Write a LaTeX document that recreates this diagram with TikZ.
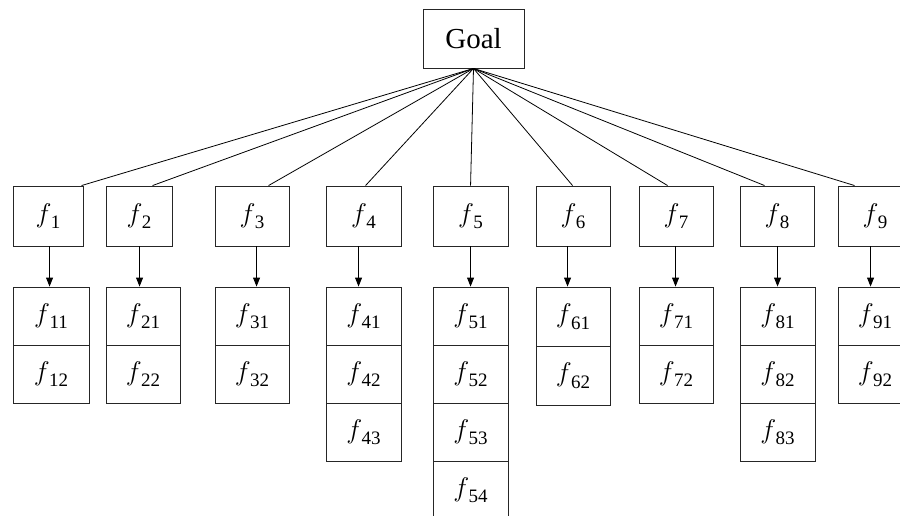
\documentclass[tikz,border=0pt]{standalone}
\usepackage{fix-cm}
\usepackage{fontspec}
\setmainfont{Liberation Serif}
\usetikzlibrary{arrows.meta,calc}
% italic f with an upright lowered index
\newcommand\fsym[1]{$f$\kern-0.02em\raisebox{-0.24em}{\fontsize{19}{20}\selectfont #1}}

\begin{document}
\begin{tikzpicture}[x=1pt,y=-1pt,
  box/.style={draw=black!85, line width=0.9pt, inner sep=0pt,
              font=\fontsize{27}{30}\selectfont},
  link/.style={line width=0.8pt},
  down/.style={line width=0.9pt,-{Triangle[length=9pt,width=7pt]}}]
\useasboundingbox (0,0) rectangle (900,516);
\clip (0,0) rectangle (900,516);
\fill[white] (0,0) rectangle (900,516);

% root
\node[box, minimum width=101, minimum height=59,
      font=\fontsize{29}{31}\selectfont] (goal) at (473.5,38.5) {Goal};

% factors: index / left / right / right of sub-boxes / number of sub-boxes /
%          sub-box height / end of link on top edge / arrow x
\foreach \n/\l/\r/\cr/\k/\ch/\lx/\ax in {
   1/13/83/89/2/58/82/50,
   2/106/172/180/2/58/153/140,
   3/215/289/289/2/58/269/257,
   4/326/401/401/3/58/366/359,
   5/433/508/508/4/58/471/471,
   6/536/610/610/2/59/573/568,
   7/639/713/713/2/58/668/676,
   8/740/814/815/3/58/765/778,
   9/838/912/912/2/58/855/871}
{
  \node[box, minimum width={\r-\l}, minimum height=60]
       (f\n) at ({(\l+\r)/2},216) {\fsym{\n}};
  \draw[link] (goal.south) -- ($(f\n.north west)+(\lx-\l,0)$);
  \foreach \j in {1,...,\k} {
    \node[box, minimum width={\cr-\l}, minimum height=\ch]
         (f\n\j) at ({(\l+\cr)/2},{287+\ch*(\j-1)+\ch/2}) {\fsym{\n\j}};
  }
  \draw[down] ($(f\n.south west)+(\ax-\l,0)$) -- ($(f\n1.north west)+(\ax-\l,0)$);
}
\end{tikzpicture}
\end{document}
